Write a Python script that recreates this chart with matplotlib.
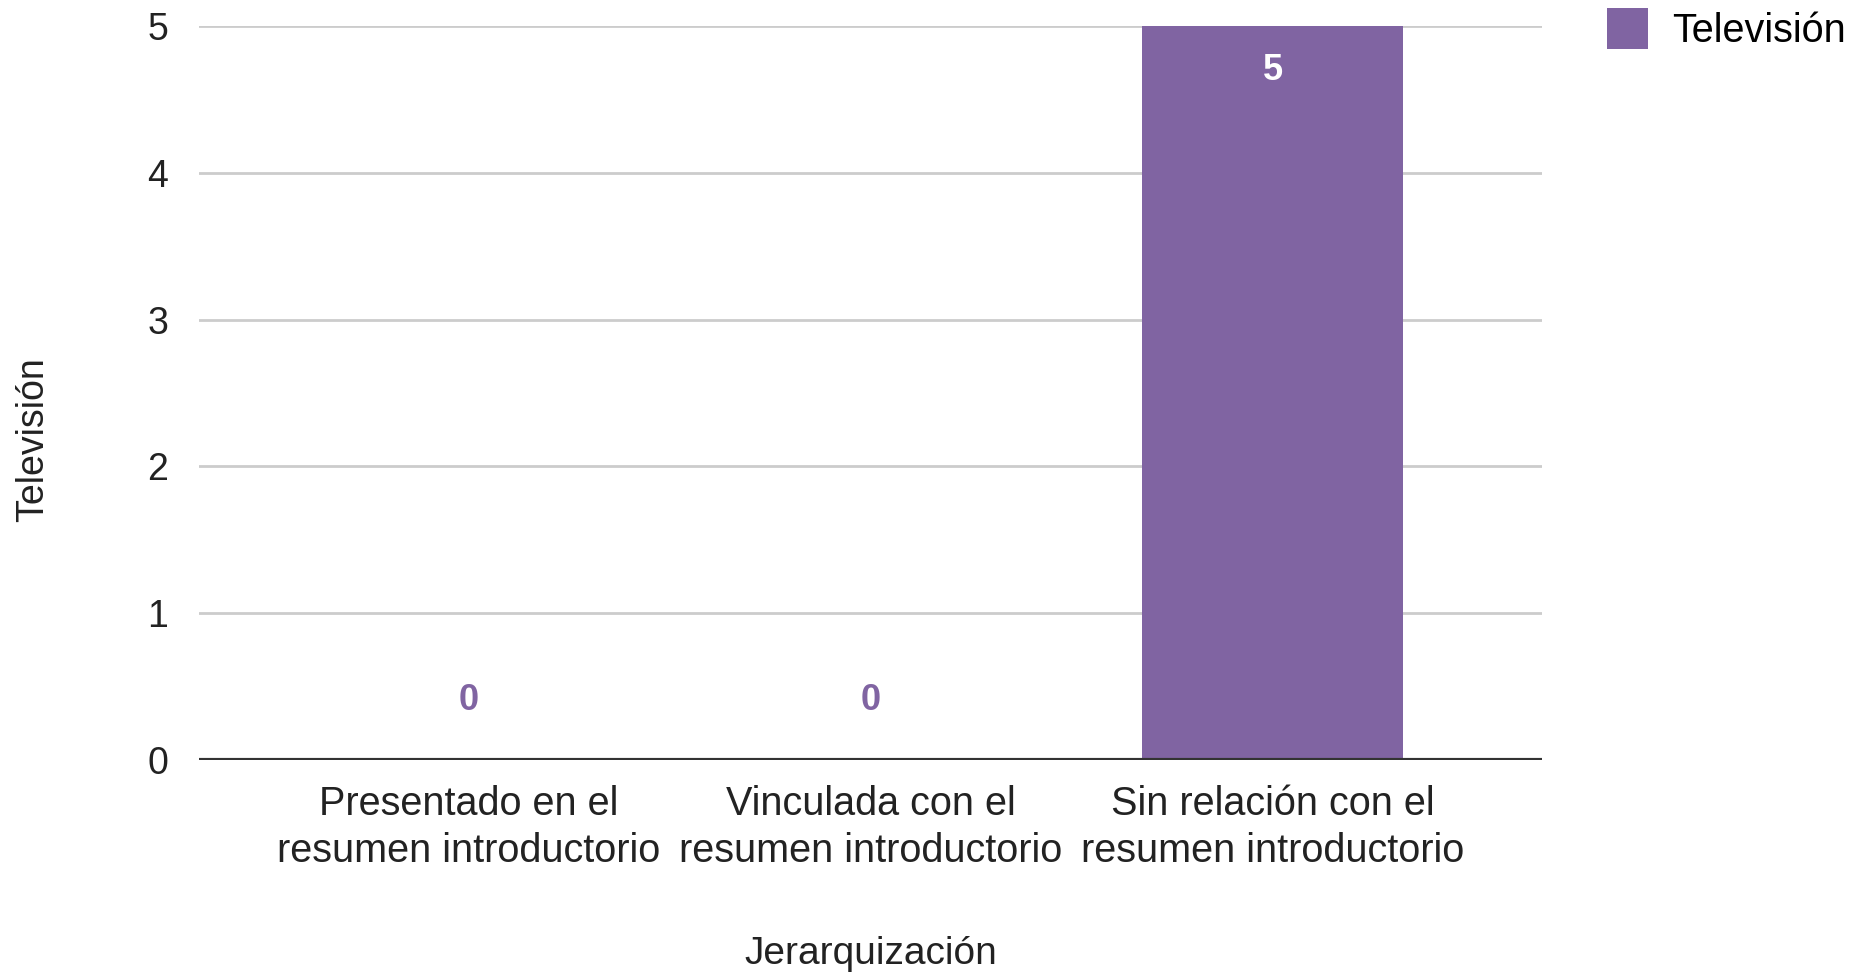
import matplotlib
matplotlib.use('Agg')
import matplotlib.pyplot as plt
import numpy as np

categories = ['Presentado en el\nresumen introductorio',
              'Vinculada con el\nresumen introductorio',
              'Sin relación con el\nresumen introductorio']
values = [0, 0, 5]
series_name = 'Televisión'
x_title = 'Jerarquización'
y_title = 'Televisión'
yticks = [0, 1, 2, 3, 4, 5]

purple = '#8064A2'
plt.rcParams['font.family'] = ['Liberation Sans', 'DejaVu Sans']

fig = plt.figure(figsize=(18.55, 9.75), dpi=100)
ax = fig.add_axes([199 / 1855, 1 - 760 / 975, (1542 - 199) / 1855, (760 - 26) / 975])

x = np.arange(len(categories))
bars = ax.bar(x, values, width=0.65, color=purple, label=series_name, zorder=3)

ax.set_xlim(-0.67, 2.67)
ax.set_ylim(0, 5)
ax.set_yticks(yticks)
ax.set_xticks(x)
ax.set_xticklabels(categories, fontsize=28.5, color='#222222', linespacing=1.3)
ax.tick_params(axis='y', labelsize=27, labelcolor='#222222', length=0, pad=22)
ax.tick_params(axis='x', length=0, pad=18)
ax.yaxis.grid(True, color='#cccccc', linewidth=2, zorder=0)
ax.axhline(0, color='#333333', linewidth=3, zorder=4)
for s in ax.spines.values():
    s.set_visible(False)

# value labels: inside the bar if tall enough, else above
for xi, v in zip(x, values):
    if v > 0:
        ax.annotate(str(v), (xi, v), xytext=(0, -32), textcoords='offset points',
                    ha='center', va='center', fontsize=26, fontweight='bold', color='white', zorder=5)
    else:
        ax.annotate(str(v), (xi, v), xytext=(0, 43), textcoords='offset points',
                    ha='center', va='center', fontsize=26, fontweight='bold', color=purple, zorder=5)

fig.text(0.5 * (199 + 1542) / 1855, 1 - 954 / 975, x_title, fontsize=28, color='#222222',
         ha='center', va='center')
fig.text(33 / 1855, 1 - 440 / 975, y_title, fontsize=27, color='#222222',
         rotation=90, ha='center', va='center')

leg = fig.legend(handles=[bars], labels=[series_name], loc='upper left',
                 bbox_to_anchor=(1579 / 1855, 1.02), frameon=False, fontsize=28.5,
                 handlelength=1.05, handleheight=1.2, handletextpad=0.6, borderaxespad=0.3)

fig.savefig('out.png', dpi=100)
